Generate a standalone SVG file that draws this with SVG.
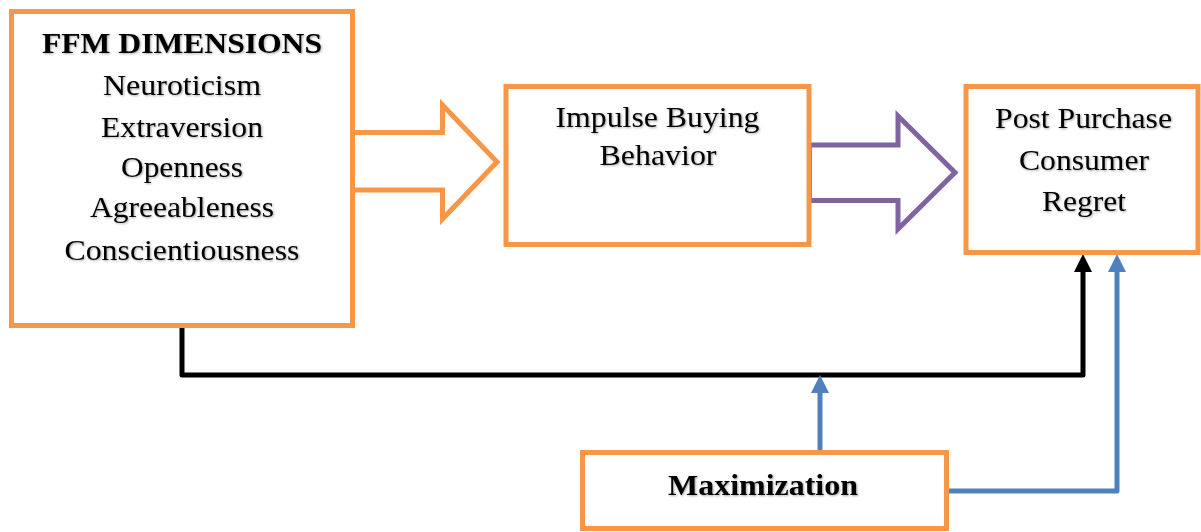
<svg xmlns="http://www.w3.org/2000/svg" width="1201" height="532" viewBox="0 0 1201 532">
  <style>
    .box { fill: #ffffff; stroke: #F79646; stroke-width: 5; }
    .lbl { font-family: "Liberation Serif", "Times New Roman", serif; font-size: 30px; fill: #000000; text-anchor: middle; filter: url(#txtShadow); }
    .bold { font-weight: bold; }
    .blockOrange { fill: #ffffff; stroke: #F79646; stroke-width: 5; stroke-linejoin: miter; }
    .blockPurple { fill: #ffffff; stroke: #8064A2; stroke-width: 5; stroke-linejoin: miter; }
    .black { fill: none; stroke: #000000; stroke-width: 5; stroke-linejoin: round; }
    .blue { fill: none; stroke: #4F81BD; stroke-width: 5; stroke-linejoin: round; }
  </style>
  <defs>
    <filter id="txtShadow" x="-5%" y="-20%" width="110%" height="140%">
      <feDropShadow dx="1" dy="1" stdDeviation="0.8" flood-color="#000000" flood-opacity="0.35"/>
    </filter>
    <marker id="headBlack" markerUnits="userSpaceOnUse" viewBox="0 0 18 18" refX="0" refY="9" markerWidth="18" markerHeight="18" orient="auto">
      <path d="M0,0 L18,9 L0,18 Z" fill="#000000"/>
    </marker>
    <marker id="headBlue" markerUnits="userSpaceOnUse" viewBox="0 0 18 18" refX="0" refY="9" markerWidth="18" markerHeight="18" orient="auto">
      <path d="M0,0 L18,9 L0,18 Z" fill="#4F81BD"/>
    </marker>
  </defs>

  <rect width="1201" height="532" fill="#ffffff"/>

  <!-- connectors -->
  <g id="connectors">
    <!-- block arrow: FFM -> Impulse Buying -->
    <polygon class="blockOrange" points="352,132.5 442.5,132.5 442.5,105 497,162 442.5,219 442.5,190 352,190"/>
    <!-- block arrow: Impulse Buying -> Regret -->
    <polygon class="blockPurple" points="809.5,145 898,145 898,116 955,172.5 898,229 898,200.5 809.5,200.5"/>
    <!-- FFM -> Regret (direct path) -->
    <path class="black" d="M182,325 L182,375 L1083,375 L1083,272" marker-end="url(#headBlack)"/>
    <!-- Maximization -> moderating the direct path -->
    <path class="blue" d="M820,452 L820,393" marker-end="url(#headBlue)"/>
    <!-- Maximization -> Regret -->
    <path class="blue" d="M946,491 L1117,491 L1117,272" marker-end="url(#headBlue)"/>
  </g>

  <g id="ffm">
    <rect class="box" x="11.5" y="11.5" width="341" height="314"/>
    <text class="lbl bold" x="182" y="53" textLength="280" lengthAdjust="spacingAndGlyphs">FFM DIMENSIONS</text>
    <text class="lbl" x="182" y="95" textLength="158" lengthAdjust="spacingAndGlyphs">Neuroticism</text>
    <text class="lbl" x="182" y="137" textLength="162" lengthAdjust="spacingAndGlyphs">Extraversion</text>
    <text class="lbl" x="182" y="177" textLength="122" lengthAdjust="spacingAndGlyphs">Openness</text>
    <text class="lbl" x="182" y="217" textLength="184" lengthAdjust="spacingAndGlyphs">Agreeableness</text>
    <text class="lbl" x="182" y="260" textLength="235" lengthAdjust="spacingAndGlyphs">Conscientiousness</text>
  </g>

  <g id="impulse">
    <rect class="box" x="506" y="86.5" width="303" height="158"/>
    <text class="lbl" x="657.5" y="127" textLength="204" lengthAdjust="spacingAndGlyphs">Impulse Buying</text>
    <text class="lbl" x="658" y="165" textLength="117" lengthAdjust="spacingAndGlyphs">Behavior</text>
  </g>

  <g id="regret">
    <rect class="box" x="966" y="86.5" width="232" height="166"/>
    <text class="lbl" x="1083.5" y="128" textLength="177" lengthAdjust="spacingAndGlyphs">Post Purchase</text>
    <text class="lbl" x="1084" y="170" textLength="130" lengthAdjust="spacingAndGlyphs">Consumer</text>
    <text class="lbl" x="1084" y="211" textLength="84" lengthAdjust="spacingAndGlyphs">Regret</text>
  </g>

  <g id="maximization">
    <rect class="box" x="582.5" y="452.5" width="364" height="76"/>
    <text class="lbl bold" x="763" y="495" textLength="190" lengthAdjust="spacingAndGlyphs">Maximization</text>
  </g>
</svg>
